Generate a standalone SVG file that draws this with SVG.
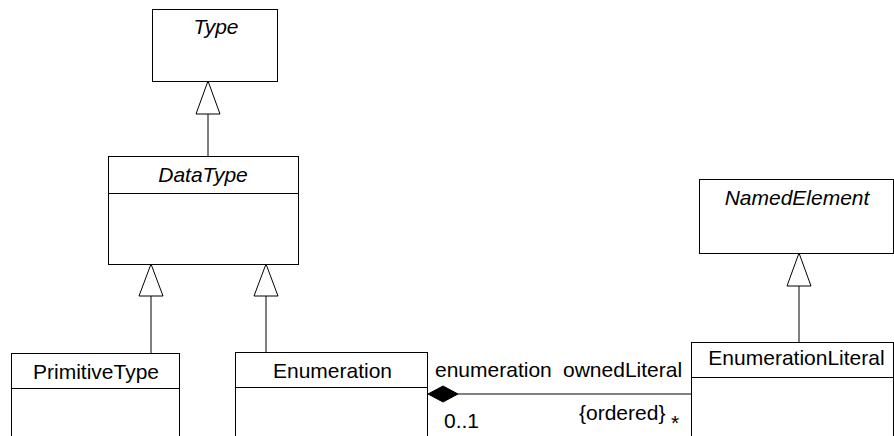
<svg xmlns="http://www.w3.org/2000/svg" width="894" height="436" viewBox="0 0 894 436">
<style>
.box{fill:#fff;stroke:#000;stroke-width:1}
.ln{fill:none;stroke:#000;stroke-width:1}
.tri{fill:#fff;stroke:#000;stroke-width:1}
.dia{fill:#000;stroke:#000;stroke-width:1}
text{font-family:"Liberation Sans",Arial,sans-serif;font-size:21px;fill:#000}
.c{text-anchor:middle}
.i{font-style:italic}
</style>
<rect width="894" height="436" fill="#fff"/>
<g id="connectors">
<line class="ln" x1="208" y1="114" x2="208" y2="156"/>
<polygon class="tri" points="208,81 196,114 220,114"/>
<line class="ln" x1="151" y1="296" x2="151" y2="353"/>
<polygon class="tri" points="151,264 139,296 163,296"/>
<line class="ln" x1="266" y1="296" x2="266" y2="352"/>
<polygon class="tri" points="266,264 254,296 278,296"/>
<line class="ln" x1="799" y1="286" x2="799" y2="342"/>
<polygon class="tri" points="799,253 787,286 811,286"/>
<line class="ln" x1="458" y1="394" x2="691" y2="394"/>
<polygon class="dia" points="428,394 443,386 458,394 443,402"/>
<text x="435" y="377">enumeration</text>
<text x="563" y="377">ownedLiteral</text>
<text x="444" y="428">0..1</text>
<text x="579" y="420">{ordered}</text>
<text x="671" y="430">*</text>
</g>
<g id="Type">
<rect class="box" x="152.5" y="9.5" width="125" height="72"/>
<text class="c i" x="216" y="34">Type</text>
</g>
<g id="DataType">
<rect class="box" x="108.5" y="156.5" width="190" height="108"/>
<line class="ln" x1="108.5" y1="193.5" x2="298.5" y2="193.5"/>
<text class="c i" x="203" y="182">DataType</text>
</g>
<g id="PrimitiveType">
<rect class="box" x="11.5" y="353.5" width="168" height="100"/>
<line class="ln" x1="11.5" y1="388.5" x2="179.5" y2="388.5"/>
<text class="c" x="96" y="379">PrimitiveType</text>
</g>
<g id="Enumeration">
<rect class="box" x="235.5" y="352.5" width="192" height="100"/>
<line class="ln" x1="235.5" y1="387.5" x2="427.5" y2="387.5"/>
<text class="c" x="332.5" y="378">Enumeration</text>
</g>
<g id="NamedElement">
<rect class="box" x="699.5" y="179.5" width="194" height="74"/>
<text class="c i" x="797" y="205">NamedElement</text>
</g>
<g id="EnumerationLiteral">
<rect class="box" x="691.5" y="342.5" width="202" height="110"/>
<line class="ln" x1="691.5" y1="377.5" x2="893.5" y2="377.5"/>
<text class="c" x="796.5" y="365">EnumerationLiteral</text>
</g>
</svg>
